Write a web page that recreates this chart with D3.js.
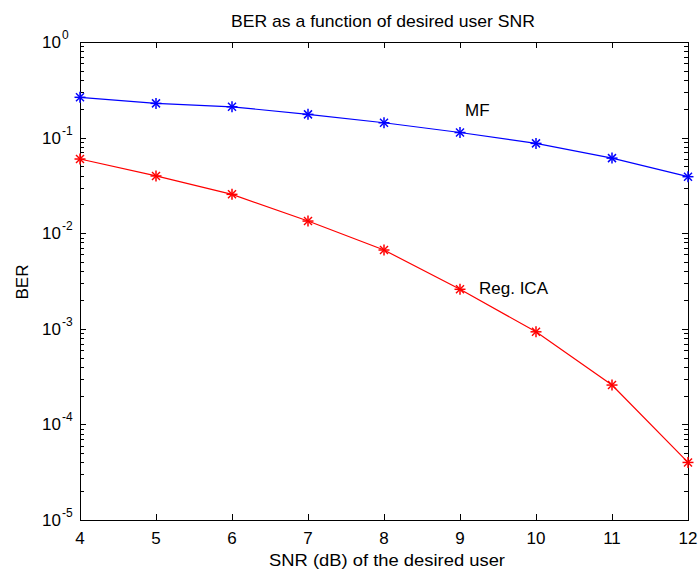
<!DOCTYPE html>
<html>
<head>
<meta charset="utf-8">
<script src="https://cdn.jsdelivr.net/npm/d3@7"></script>
<style>
  html, body { margin: 0; padding: 0; background: #fff; }
  svg text { font-family: Arial, "Liberation Sans", sans-serif; fill: #000; }
</style>
</head>
<body>
<svg id="chart" width="699" height="572"></svg>
<script>
// SNR values (dB) and BER results for the two receivers
const snr = [4, 5, 6, 7, 8, 9, 10, 11, 12];
const berMF = [0.264, 0.228, 0.21, 0.175, 0.143, 0.113, 0.087, 0.061, 0.039];
const berRegICA = [0.0597, 0.0397, 0.0255, 0.0134, 0.00667, 0.00259, 0.00093, 0.000258, 0.00004];
const xTicks = [4, 5, 6, 7, 8, 9, 10, 11, 12];
const yDecades = [0, -1, -2, -3, -4, -5];

const svg = d3.select("#chart");
const m = { left: 80, right: 688, top: 42, bottom: 520 };
const fs = 17;

const x = d3.scaleLinear().domain([4, 12]).range([m.left, m.right]);
const y = d3.scaleLog().domain([1e-5, 1]).range([m.bottom, m.top]);

// Axes box
svg.append("rect")
  .attr("x", m.left + 0.5).attr("y", m.top + 0.5)
  .attr("width", m.right - m.left).attr("height", m.bottom - m.top)
  .attr("fill", "none").attr("stroke", "#000").attr("stroke-width", 1);

const tickG = svg.append("g").attr("stroke", "#000").attr("stroke-width", 1);

// X major ticks, bottom and top, pointing inward
xTicks.forEach(v => {
  const px = Math.round(x(v)) + 0.5;
  tickG.append("line").attr("x1", px).attr("x2", px).attr("y1", m.bottom).attr("y2", m.bottom - 6);
  tickG.append("line").attr("x1", px).attr("x2", px).attr("y1", m.top).attr("y2", m.top + 6);
});

// Y major and minor ticks on left and right
for (let e = -5; e < 0; e++) {
  for (let k = 1; k <= 9; k++) {
    const v = k * Math.pow(10, e);
    const py = Math.round(y(v)) + 0.5;
    const len = k === 1 ? 6 : 4;
    tickG.append("line").attr("x1", m.left).attr("x2", m.left + len).attr("y1", py).attr("y2", py);
    tickG.append("line").attr("x1", m.right).attr("x2", m.right - len).attr("y1", py).attr("y2", py);
  }
}

// X tick labels
svg.append("g").selectAll("text").data(xTicks).join("text")
  .attr("x", d => x(d)).attr("y", 544)
  .attr("text-anchor", "middle").attr("font-size", fs)
  .text(d => d);

// Y tick labels: "10" right-aligned, exponent raised after it
const yl = svg.append("g");
yDecades.forEach(e => {
  const py = y(Math.pow(10, e));
  yl.append("text")
    .attr("x", 61).attr("y", py + 6)
    .attr("text-anchor", "end").attr("font-size", fs)
    .text("10");
  yl.append("text")
    .attr("x", 62).attr("y", py - 3)
    .attr("font-size", 12)
    .text(String(e));
});

// Title and axis labels
svg.append("text").attr("x", 383).attr("y", 27)
  .attr("text-anchor", "middle").attr("font-size", fs)
  .attr("textLength", 304).attr("lengthAdjust", "spacingAndGlyphs")
  .text("BER as a function of desired user SNR");
svg.append("text").attr("x", 387).attr("y", 566)
  .attr("text-anchor", "middle").attr("font-size", fs)
  .attr("textLength", 236).attr("lengthAdjust", "spacingAndGlyphs")
  .text("SNR (dB) of the desired user");
svg.append("text")
  .attr("transform", `translate(28,282) rotate(-90)`)
  .attr("text-anchor", "middle").attr("font-size", fs)
  .text("BER");

// Series
const line = d3.line().x(d => x(d[0])).y(d => y(d[1]));
function drawSeries(vals, color) {
  const pts = snr.map((s, i) => [s, vals[i]]);
  svg.append("path").datum(pts)
    .attr("d", line).attr("fill", "none")
    .attr("stroke", color).attr("stroke-width", 1.2);
  const mk = svg.append("g").attr("stroke", color).attr("stroke-width", 1.5);
  const r = 5.5, d = 4;
  pts.forEach(p => {
    const cx = x(p[0]), cy = y(p[1]);
    mk.append("line").attr("x1", cx - r).attr("x2", cx + r).attr("y1", cy).attr("y2", cy);
    mk.append("line").attr("x1", cx).attr("x2", cx).attr("y1", cy - r).attr("y2", cy + r);
    mk.append("line").attr("x1", cx - d).attr("x2", cx + d).attr("y1", cy - d).attr("y2", cy + d);
    mk.append("line").attr("x1", cx - d).attr("x2", cx + d).attr("y1", cy + d).attr("y2", cy - d);
  });
}
drawSeries(berMF, "#0000ff");
drawSeries(berRegICA, "#ff0000");

// Series labels
svg.append("text").attr("x", 465).attr("y", 116).attr("font-size", fs).text("MF");
svg.append("text").attr("x", 479).attr("y", 294).attr("font-size", fs).text("Reg. ICA");
</script>
</body>
</html>
